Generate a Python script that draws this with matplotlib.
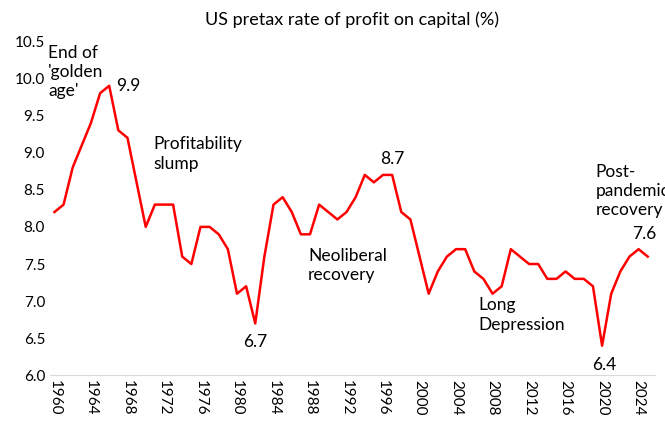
import matplotlib.pyplot as plt
import numpy as np

plt.rcParams['font.family'] = ['Lato', 'DejaVu Sans']

years = list(range(1960, 2026))
rate = [8.2, 8.3, 8.8, 9.1, 9.4, 9.8, 9.9, 9.3, 9.2, 8.6,
        8.0, 8.3, 8.3, 8.3, 7.6, 7.5, 8.0, 8.0, 7.9, 7.7,
        7.1, 7.2, 6.7, 7.6, 8.3, 8.4, 8.2, 7.9, 7.9, 8.3,
        8.2, 8.1, 8.2, 8.4, 8.7, 8.6, 8.7, 8.7, 8.2, 8.1,
        7.6, 7.1, 7.4, 7.6, 7.7, 7.7, 7.4, 7.3, 7.1, 7.2,
        7.7, 7.6, 7.5, 7.5, 7.3, 7.3, 7.4, 7.3, 7.3, 7.2,
        6.4, 7.1, 7.4, 7.6, 7.7, 7.6]

fig = plt.figure(figsize=(6.65, 4.34), dpi=100)
ax = fig.add_axes([0.075, 0.135, 0.91, 0.77])
ax.plot(years, rate, color="#ff0000", lw=1.8)
ax.set_ylim(6.0, 10.5)
ax.set_xlim(1959.5, 2025.8)
ax.set_yticks(np.arange(6.0, 10.51, 0.5))
ax.set_yticklabels(["{0:.1f}".format(t) for t in np.arange(6.0, 10.51, 0.5)], fontsize=11)
ax.set_xticks(range(1960, 2025, 4))
ax.set_xticklabels([str(y) for y in range(1960, 2025, 4)], rotation=270, fontsize=11)
ax.tick_params(length=0)
for s in ["top", "right", "left"]:
    ax.spines[s].set_visible(False)
ax.spines["bottom"].set_color("#d9d9d9")
ax.set_title("US pretax rate of profit on capital (%)", fontsize=13, pad=12)

fs = 12.5
ls = 1.25
ax.text(1966.8, 9.9, "9.9", fontsize=fs, va="center")
ax.text(1982, 6.45, "6.7", fontsize=fs, ha="center", va="center")
ax.text(1997, 8.92, "8.7", fontsize=fs, ha="center", va="center")
ax.text(2020.2, 6.14, "6.4", fontsize=fs, ha="center", va="center")
ax.text(2024.6, 7.9, "7.6", fontsize=fs, ha="center", va="center")
ax.text(1959.3, 10.45, "End of\n'golden\nage'", fontsize=fs, va="top", linespacing=ls)
ax.text(1970.8, 9.22, "Profitability\nslump", fontsize=fs, va="top", linespacing=ls)
ax.text(1987.8, 7.72, "Neoliberal\nrecovery", fontsize=fs, va="top", linespacing=ls)
ax.text(2006.5, 7.05, "Long\nDepression", fontsize=fs, va="top", linespacing=ls)
ax.text(2019.3, 8.85, "Post-\npandemic\nrecovery", fontsize=fs, va="top", linespacing=ls)

fig.savefig("out.png", dpi=100)
